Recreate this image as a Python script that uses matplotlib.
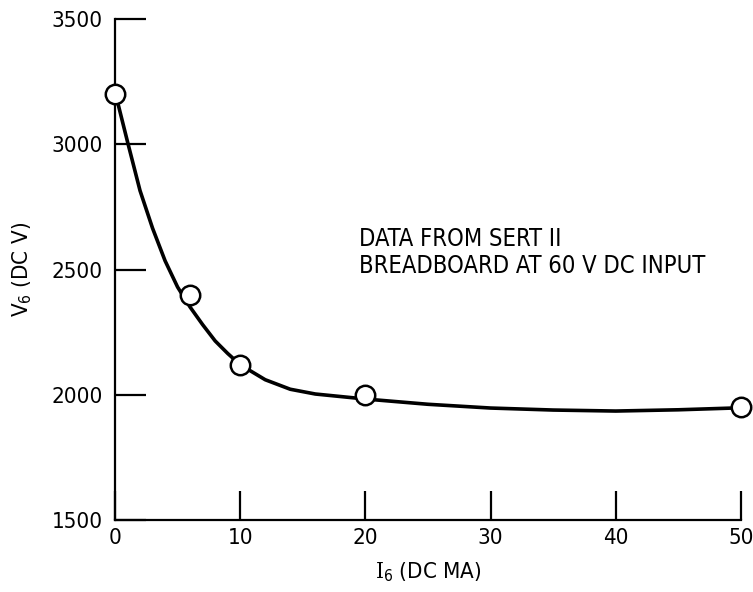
import matplotlib
matplotlib.use('Agg')
from matplotlib import pyplot as plt

plt.rcParams['font.family'] = ['DejaVu Sans']
plt.rcParams['font.stretch'] = 'condensed'
plt.rcParams['mathtext.fontset'] = 'dejavuserif'

# measured points
i6 = [0, 6, 10, 20, 50]
v6 = [3200, 2400, 2120, 2000, 1950]

# faired curve
curve_x = [0, 1, 2, 3, 4, 5, 6, 7, 8, 9, 10, 12, 14, 16, 20,
           25, 30, 35, 40, 45, 50]
curve_y = [3210, 3010, 2815, 2665, 2535, 2430, 2350, 2280, 2215, 2165, 2120,
           2060, 2022, 2003, 1983, 1962, 1947, 1939, 1935, 1940, 1948]

x_ticks = [0, 10, 20, 30, 40, 50]
y_ticks = [1500, 2000, 2500, 3000, 3500]

fig = plt.figure(figsize=(7.53, 5.92), dpi=100)
ax = fig.add_axes((0.1527, 0.1216, 0.8313, 0.8463))

ax.plot(curve_x, curve_y, color='black', lw=2.6, clip_on=False, zorder=2,
        solid_joinstyle='round')
ax.plot(i6, v6, 'o', ms=14, mfc='white', mec='black', mew=1.8,
        clip_on=False, zorder=3)

ax.set_xlim(0, 50)
ax.set_ylim(1500, 3500)
ax.set_xticks(x_ticks)
ax.set_yticks(y_ticks)
ax.tick_params(direction='in', labelsize=16, width=1.6)
ax.tick_params(axis='y', length=22, pad=9)
ax.tick_params(axis='x', length=21, pad=6)
ax.spines['top'].set_visible(False)
ax.spines['right'].set_visible(False)
for s in ['left', 'bottom']:
    ax.spines[s].set_linewidth(1.6)

ax.set_xlabel(r'$\mathrm{I}_{\mathsf{6}}$ (DC MA)', fontsize=16, labelpad=9)
ax.set_ylabel(r'$\mathsf{V_6}$ (DC V)', fontsize=16, labelpad=12)

ax.text(0.39, 0.585, 'DATA FROM SERT II\nBREADBOARD AT 60 V DC INPUT',
        transform=ax.transAxes, fontsize=17, linespacing=1.15, va='top')

fig.savefig('out.png', dpi=100)
